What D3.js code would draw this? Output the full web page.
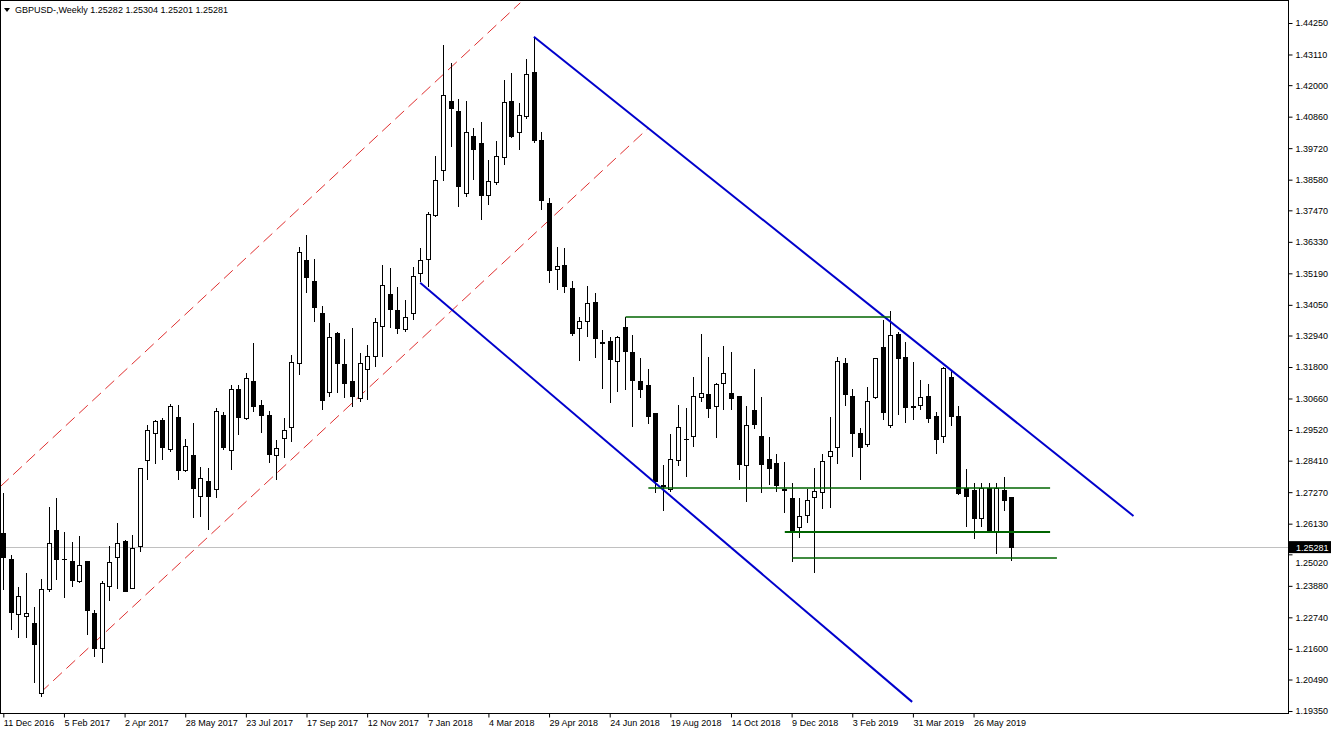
<!DOCTYPE html>
<html>
<head>
<meta charset="utf-8">
<script src="https://cdn.jsdelivr.net/npm/d3@7"></script>
<style>
  body { margin: 0; background: #fff; }
  svg { display: block; font-family: "Liberation Sans", Arial, sans-serif; }
</style>
</head>
<body>
<svg id="chart" width="1332" height="734"></svg>
<script>
// weekly candles starting 11 Dec 2016, one row per week
var opens = [1.2576,1.2485,1.2283,1.2276,1.2251,1.1997,1.2373,1.2587,1.2485,1.2475,1.2402,1.2475,1.2287,1.2163,1.2384,1.2489,1.2547,1.2380,1.2529,1.2840,
  1.2938,1.2985,1.2880,1.2996,1.2804,1.2858,1.2710,1.2764,1.2735,1.3003,1.2876,1.3097,1.2992,1.3126,1.3039,1.3003,1.2858,1.2920,1.2960,1.3192,
  1.3564,1.3488,1.3372,1.3086,1.3300,1.3188,1.3126,1.3065,1.3170,1.3217,1.3325,1.3441,1.3383,1.3314,1.3372,1.3517,1.3568,1.3727,1.3890,1.4140,
  1.4104,1.3807,1.4013,1.3988,1.3799,1.3846,1.3937,1.4140,1.4028,1.4085,1.4245,1.3999,1.3770,1.3532,1.3546,1.3463,1.3318,1.3343,1.3412,1.3267,
  1.3271,1.3199,1.3322,1.3231,1.3126,1.3112,1.3010,1.2750,1.2735,1.2840,1.2916,1.2927,1.3068,1.3079,1.3036,1.3122,1.3083,1.3072,1.2822,1.3021,
  1.2927,1.2847,1.2829,1.2735,1.2703,1.2598,1.2641,1.2706,1.2724,1.2855,1.2887,1.3192,1.3072,1.2938,1.2898,1.3068,1.3249,1.2967,1.3296,1.3213,
  1.3036,1.3039,1.3075,1.3000,1.2927,1.3141,1.3000,1.2739,1.2732,1.2630,1.2739,1.2580,1.2732,1.2706];
var highs = [1.2724,1.2500,1.2384,1.2435,1.2312,1.2413,1.2674,1.2706,1.2583,1.2547,1.2569,1.2478,1.2301,1.2406,1.2533,1.2616,1.2554,1.2572,1.2815,1.2971,
  1.2989,1.2996,1.3047,1.3043,1.2920,1.2978,1.2818,1.2815,1.3032,1.3018,1.3115,1.3115,1.3159,1.3267,1.3061,1.3021,1.2916,1.2996,1.3224,1.3615,
  1.3658,1.3571,1.3401,1.3340,1.3307,1.3282,1.3322,1.3231,1.3260,1.3358,1.3550,1.3539,1.3470,1.3423,1.3542,1.3611,1.3742,1.3944,1.4346,1.4281,
  1.4151,1.4143,1.4046,1.4067,1.3930,1.3999,1.4219,1.4245,1.4136,1.4295,1.4375,1.4031,1.3792,1.3615,1.3611,1.3492,1.3362,1.3474,1.3448,1.3314,
  1.3289,1.3293,1.3362,1.3296,1.3213,1.3173,1.3014,1.2826,1.2938,1.3043,1.3032,1.3144,1.3300,1.3217,1.3122,1.3256,1.3235,1.3075,1.3039,1.3173,
  1.3072,1.2927,1.2865,1.2837,1.2760,1.2706,1.2739,1.2815,1.2865,1.3000,1.3217,1.3213,1.3101,1.2960,1.3108,1.3213,1.3351,1.3383,1.3307,1.3271,
  1.3199,1.3133,1.3119,1.3018,1.3181,1.3170,1.3039,1.2811,1.2760,1.2760,1.2760,1.2760,1.2782,1.2710];
var lows = [1.2373,1.2228,1.2199,1.2199,1.2036,1.1986,1.2366,1.2409,1.2344,1.2384,1.2398,1.2210,1.2131,1.2109,1.2333,1.2377,1.2366,1.2377,1.2511,1.2771,
  1.2829,1.2844,1.2873,1.2771,1.2800,1.2634,1.2638,1.2590,1.2706,1.2880,1.2808,1.2934,1.2989,1.3018,1.2942,1.2833,1.2771,1.2851,1.2909,1.3152,
  1.3448,1.3343,1.3025,1.3072,1.3086,1.3068,1.3036,1.3054,1.3061,1.3181,1.3217,1.3322,1.3300,1.3307,1.3351,1.3488,1.3470,1.3724,1.3854,1.3977,
  1.3760,1.3796,1.3857,1.3713,1.3767,1.3839,1.3912,1.4009,1.3966,1.4078,1.3991,1.3749,1.3485,1.3459,1.3448,1.3293,1.3202,1.3289,1.3213,1.3101,
  1.3050,1.3090,1.3097,1.2963,1.3068,1.2974,1.2724,1.2659,1.2728,1.2822,1.2782,1.2891,1.3054,1.2996,1.2923,1.3025,1.3025,1.2771,1.2692,1.2956,
  1.2724,1.2753,1.2728,1.2652,1.2475,1.2561,1.2616,1.2435,1.2667,1.2670,1.2829,1.3039,1.2855,1.2771,1.2891,1.3065,1.2989,1.2960,1.3007,1.2978,
  1.2989,1.3025,1.2978,1.2865,1.2905,1.2967,1.2717,1.2601,1.2558,1.2601,1.2580,1.2504,1.2659,1.2478];
var closes = [1.2489,1.2290,1.2348,1.2287,1.2174,1.2373,1.2543,1.2482,1.2482,1.2409,1.2460,1.2297,1.2163,1.2395,1.2471,1.2543,1.2369,1.2522,1.2812,1.2949,
  1.2981,1.2887,1.3036,1.2804,1.2891,1.2739,1.2778,1.2713,1.3018,1.2887,1.3097,1.2996,1.3137,1.3036,1.3003,1.2862,1.2884,1.2949,1.3195,1.3593,
  1.3503,1.3394,1.3057,1.3285,1.3192,1.3122,1.3075,1.3192,1.3217,1.3340,1.3474,1.3387,1.3318,1.3358,1.3506,1.3564,1.3731,1.3854,1.4161,1.4114,
  1.3832,1.4028,1.3966,1.3799,1.3850,1.3941,1.4136,1.4013,1.4089,1.4238,1.3999,1.3781,1.3528,1.3542,1.3470,1.3300,1.3343,1.3409,1.3282,1.3264,
  1.3206,1.3285,1.3235,1.3130,1.3097,1.3000,1.2764,1.2748,1.2847,1.2960,1.2918,1.3072,1.3083,1.3028,1.3115,1.3155,1.3065,1.2826,1.2967,1.2971,
  1.2826,1.2811,1.2750,1.2733,1.2583,1.2638,1.2696,1.2728,1.2837,1.2873,1.3199,1.3079,1.2938,1.2887,1.3054,1.3210,1.3014,1.3293,1.3210,1.3032,
  1.3034,1.3068,1.2992,1.2916,1.3173,1.3000,1.2721,1.2713,1.2630,1.2739,1.2587,1.2739,1.2696,1.2528];

var priceTicks = [1.44250,1.43110,1.42000,1.40860,1.39720,1.38580,1.37470,1.36330,1.35190,1.34050,1.32940,1.31800,
  1.30660,1.29520,1.28410,1.27270,1.26130,1.25020,1.23880,1.22740,1.21600,1.20490,1.19350];
var dateTicks = [0,8,16,24,32,40,48,56,64,72,80,88,96,104,112,120,128];
var dateLabels = ['11 Dec 2016','5 Feb 2017','2 Apr 2017','28 May 2017','23 Jul 2017','17 Sep 2017','12 Nov 2017','7 Jan 2018',
  '4 Mar 2018','29 Apr 2018','24 Jun 2018','19 Aug 2018','14 Oct 2018','9 Dec 2018','3 Feb 2019','31 Mar 2019','26 May 2019'];

// drawn objects: [bar index, price] end points
var channelLines = [
  [[70.0, 1.4375], [149.1, 1.2641]],
  [[55.0, 1.3485], [119.9, 1.1968]]
];
var dashedLines = [
  [[-0.44, 1.2746], [68.2, 1.4498]],
  [[4.84, 1.2000], [85.1, 1.4045]]
];
var levels = [
  { from: 82.1, to: 117.0, price: 1.3361, width: 1.5 },
  { from: 85.1, to: 138.1, price: 1.2742, width: 1.5 },
  { from: 103.1, to: 138.1, price: 1.2583, width: 2 },
  { from: 104.1, to: 139.0, price: 1.2489, width: 1.5 }
];
var lastPrice = 1.25281;

var svg = d3.select('#chart');
var plotRight = 1288, plotBottom = 713;

var x = d3.scaleLinear().domain([0, 1]).range([3.3, 3.3 + 7.58]);
var y = d3.scaleLinear().domain([1.1935, 1.4425]).range([711, 23]);

var plot = svg.append('g');
svg.append('defs').append('clipPath').attr('id', 'clip')
  .append('rect').attr('x', 0).attr('y', 0).attr('width', plotRight).attr('height', plotBottom);
plot.attr('clip-path', 'url(#clip)');

// current price line
plot.append('line')
  .attr('x1', 0).attr('x2', plotRight)
  .attr('y1', Math.round(y(lastPrice)) + 0.5).attr('y2', Math.round(y(lastPrice)) + 0.5)
  .attr('stroke', '#c0c0c0');

var line = d3.line().x(function (d) { return x(d[0]); }).y(function (d) { return y(d[1]); });

plot.selectAll('.dash').data(dashedLines).join('path')
  .attr('d', line).attr('fill', 'none')
  .attr('stroke', '#e03030').attr('stroke-width', 1).attr('stroke-dasharray', '12,6');

// candles
var candles = d3.range(opens.length).map(function (i) {
  return { i: i, o: opens[i], h: highs[i], l: lows[i], c: closes[i] };
});
var cg = plot.selectAll('.candle').data(candles).join('g').attr('class', 'candle')
  .attr('shape-rendering', 'crispEdges');
cg.append('line')
  .attr('x1', function (d) { return Math.round(x(d.i)) + 0.5; })
  .attr('x2', function (d) { return Math.round(x(d.i)) + 0.5; })
  .attr('y1', function (d) { return y(d.h); })
  .attr('y2', function (d) { return y(d.l); })
  .attr('stroke', '#000');
cg.append('rect')
  .attr('x', function (d) { return Math.round(x(d.i)) - 1.5; })
  .attr('width', 4)
  .attr('y', function (d) { return y(Math.max(d.o, d.c)); })
  .attr('height', function (d) { return Math.max(0.5, Math.abs(y(d.o) - y(d.c))); })
  .attr('fill', function (d) { return d.c < d.o ? '#000' : '#fff'; })
  .attr('stroke', '#000');

plot.selectAll('.chan').data(channelLines).join('path')
  .attr('d', line).attr('fill', 'none')
  .attr('stroke', '#0000cc').attr('stroke-width', 2);

plot.selectAll('.lvl').data(levels).join('line')
  .attr('x1', function (d) { return x(d.from); })
  .attr('x2', function (d) { return x(d.to); })
  .attr('y1', function (d) { return y(d.price); })
  .attr('y2', function (d) { return y(d.price); })
  .attr('stroke', '#006400').attr('stroke-width', function (d) { return d.width; });

// frame
svg.append('rect').attr('x', 0.5).attr('y', 0.5).attr('width', plotRight).attr('height', plotBottom)
  .attr('fill', 'none').attr('stroke', '#000').attr('shape-rendering', 'crispEdges');

// price axis
var yAxis = svg.append('g').attr('transform', 'translate(' + (plotRight + 0.5) + ',0)')
  .call(d3.axisRight(y).tickValues(priceTicks).tickSize(4).tickPadding(3).tickFormat(d3.format('.5f')));
yAxis.select('.domain').remove();
yAxis.selectAll('text').attr('font-size', 9).attr('fill', '#000');
// nudge the tick label sitting under the last price marker
yAxis.selectAll('.tick').filter(function (d) { return Math.abs(y(d) - y(lastPrice)) < 12; })
  .select('text').attr('dy', '1.2em');

// last price marker
var lp = svg.append('g').attr('transform', 'translate(' + (plotRight + 1) + ',' + y(lastPrice) + ')');
lp.append('rect').attr('x', 0).attr('y', -6).attr('width', 42).attr('height', 12).attr('fill', '#000');
lp.append('text').attr('x', 7).attr('y', 3.5).attr('fill', '#fff').attr('font-size', 9).text('1.25281');

// time axis
var xAxis = svg.append('g').attr('transform', 'translate(0,' + (plotBottom + 0.5) + ')')
  .call(d3.axisBottom(x).tickValues(dateTicks).tickSize(4).tickPadding(2)
    .tickFormat(function (d, k) { return dateLabels[k]; }));
xAxis.select('.domain').remove();
xAxis.selectAll('text').attr('font-size', 9).attr('fill', '#000').attr('text-anchor', 'start');

// title
svg.append('path').attr('d', 'M4,8 L10,8 L7,12 Z').attr('fill', '#000');
svg.append('text').attr('x', 15).attr('y', 13).attr('font-size', 9)
  .text('GBPUSD-,Weekly  1.25282 1.25304 1.25201 1.25281');
</script>
</body>
</html>
